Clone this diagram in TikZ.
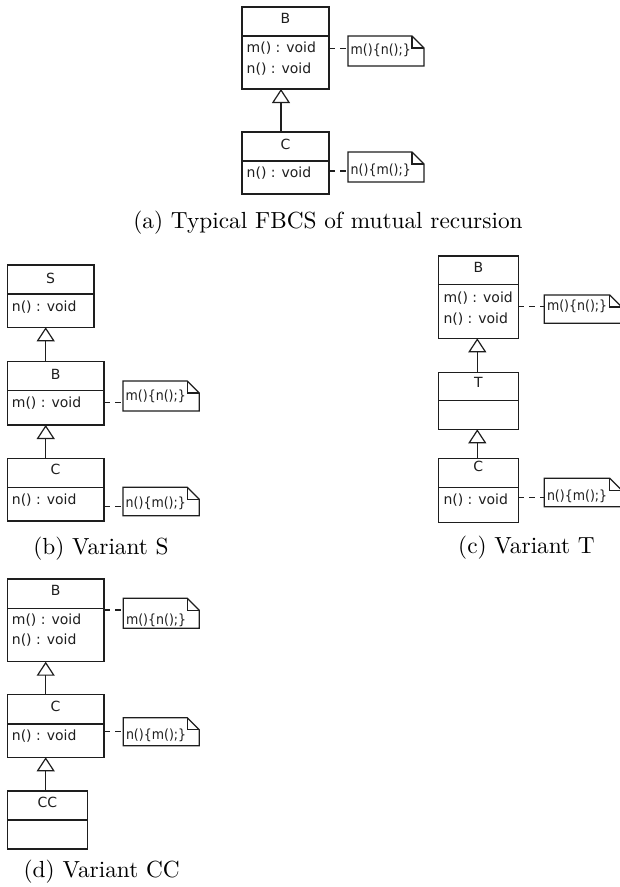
\documentclass[tikz,border=0pt]{standalone}
\usepackage{fontspec}
\usetikzlibrary{arrows.meta,calc}
\newfontfamily\umlfont{DejaVu Sans}
\newfontfamily\notefont[FakeStretch=0.9]{DejaVu Sans}
\newfontfamily\capfont[Extension=.otf]{lmroman10-regular}
\definecolor{ink}{HTML}{1E1E1E}
\tikzset{
  umlline/.style={draw=ink, line width=1.2pt},
  clsbox/.style={umlline, rectangle, inner sep=0pt, outer sep=0pt},
  notebox/.style={rectangle, inner sep=0pt, outer sep=0pt},
  ctitle/.style={font=\umlfont\fontsize{14}{16}\selectfont, text=ink, inner sep=0pt},
  optext/.style={font=\umlfont\fontsize{14}{16}\selectfont, text=ink, inner sep=0pt, anchor=west},
  ntext/.style={font=\notefont\fontsize{14}{16}\selectfont, text=ink, inner sep=0pt, anchor=west},
  inh/.style={umlline, -{Triangle[open, length=14pt, width=18pt]}},
  dep/.style={umlline, dash pattern=on 6pt off 5pt},
  capt/.style={font=\capfont\fontsize{23.3}{27}\selectfont, inner sep=0pt, anchor=base}
}
% class box: name, x1, y1, x2, y2, ydiv
\newcommand\clsB[6]{%
  \node[clsbox, anchor=north west, minimum width={#4-#2}, minimum height={#5-#3}] (#1) at (#2,#3) {};
  \draw[umlline] (#1.west |- 0,#6) -- (#1.east |- 0,#6);}
% note: name, x1, y1, x2, y2, text y, text
\newcommand\noteB[7]{%
  \node[notebox, anchor=north west, minimum width={#4-#2}, minimum height={#5-#3}] (#1) at (#2,#3) {};
  \draw[umlline, line join=miter] (#1.north west) -- ($(#1.north east)+(-12,0)$) -- ($(#1.north east)+(0,12)$)
     -- (#1.south east) -- (#1.south west) -- cycle;
  \draw[umlline] ($(#1.north east)+(-12,0)$) -- ($(#1.north east)+(-12,12)$) -- ($(#1.north east)+(0,12)$);
  \node[ntext] at (#2+2.5,#6) {#7};}
\begin{document}
\begin{tikzpicture}[x=1pt,y=-1pt]
\fill[white] (0,0) rectangle (620,887);
\useasboundingbox (0,0) rectangle (620,887);

% ---------------- (a)
\clsB{aB}{242}{7}{329}{89}{36}
\node[ctitle] at (285.5,18) {B};
\node[optext] at (246.5,48) {m() : void};
\node[optext] at (246.5,69) {n() : void};
\clsB{aC}{242}{132}{329}{194}{161}
\node[ctitle] at (285.5,144) {C};
\node[optext] at (246.5,173) {n() : void};
\coordinate (ax) at (281,0);
\draw[inh] (aC.north -| ax) -- (aB.south -| ax);
\noteB{aN1}{348}{36}{424}{66}{50}{m()\{n();\}}
\noteB{aN2}{348}{152}{424}{182}{170}{n()\{m();\}}
\coordinate (ay1) at (0,48.3);
\coordinate (ay2) at (0,171);
\draw[dep] (aB.east |- ay1) -- (aN1.west |- ay1);
\draw[dep] (aC.east |- ay2) -- (aN2.west |- ay2);
\node[capt] (capa) at (328,228) {(a) Typical FBCS of mutual recursion};

% ---------------- (b)
\clsB{bS}{7.3}{265}{94}{327.3}{294}
\node[ctitle] at (50.6,278) {S};
\node[optext] at (11.7,307) {n() : void};
\clsB{bB}{7.3}{361.7}{104}{425}{390.7}
\node[ctitle] at (55.6,374.7) {B};
\node[optext] at (11.7,403) {m() : void};
\clsB{bC}{7.3}{458.3}{104}{521}{487.3}
\node[ctitle] at (55.6,469.7) {C};
\node[optext] at (11.7,500) {n() : void};
\coordinate (bx) at (45.7,0);
\draw[inh] (bB.north -| bx) -- (bS.south -| bx);
\draw[inh] (bC.north -| bx) -- (bB.south -| bx);
\noteB{bN1}{123}{381}{199.3}{411}{396}{m()\{n();\}}
\noteB{bN2}{123}{487.3}{199.3}{515.7}{503}{n()\{m();\}}
\coordinate (by1) at (0,402.7);
\coordinate (by2) at (0,506.7);
\draw[dep] (bB.east |- by1) -- (bN1.west |- by1);
\draw[dep] (bC.east |- by2) -- (bN2.west |- by2);
\node[capt] (capb) at (101,554.3) {(b) Variant S};

% ---------------- (c)
\clsB{cB}{438.3}{256}{518.3}{338.3}{284.3}
\node[ctitle] at (478.3,267.5) {B};
\node[optext] at (443.3,297.8) {m() : void};
\node[optext] at (443.3,318.8) {n() : void};
\clsB{cT}{438.3}{372.3}{518.3}{429.3}{400.7}
\node[ctitle] at (478.3,382) {T};
\clsB{cC}{438.3}{458.3}{518.3}{522.7}{487.7}
\node[ctitle] at (478.3,466) {C};
\node[optext] at (443.3,500) {n() : void};
\coordinate (cx) at (477.3,0);
\draw[inh] (cT.north -| cx) -- (cB.south -| cx);
\draw[inh] (cC.north -| cx) -- (cT.south -| cx);
\noteB{cN1}{544.3}{295}{621.8}{323.3}{306.7}{m()\{n();\}}
\noteB{cN2}{544.3}{478.3}{621.8}{506.7}{496.7}{n()\{m();\}}
\coordinate (cy1) at (0,306.7);
\coordinate (cy2) at (0,497.3);
\draw[dep] (cB.east |- cy1) -- (cN1.west |- cy1);
\draw[dep] (cC.east |- cy2) -- (cN2.west |- cy2);
\node[capt] (capc) at (526.5,553) {(c) Variant T};

% ---------------- (d)
\clsB{dB}{7.3}{579}{104}{661.7}{608.3}
\node[ctitle] at (55.6,590) {B};
\node[optext] at (11.7,620) {m() : void};
\node[optext] at (11.7,640.5) {n() : void};
\clsB{dC}{7.3}{694.3}{104}{757.3}{724}
\node[ctitle] at (55.6,706) {C};
\node[optext] at (11.7,736) {n() : void};
\clsB{dCC}{7.3}{791}{87.3}{849}{820}
\node[ctitle] at (47.3,802.5) {CC};
\coordinate (dx) at (45.7,0);
\draw[inh] (dC.north -| dx) -- (dB.south -| dx);
\draw[inh] (dCC.north -| dx) -- (dC.south -| dx);
\noteB{dN1}{123.3}{598.3}{199.3}{628.3}{620}{m()\{n();\}}
\noteB{dN2}{123.3}{717.7}{199.3}{745.7}{735}{n()\{m();\}}
\coordinate (dy1) at (0,610);
\coordinate (dy2) at (0,731.7);
\draw[dep] (dB.east |- dy1) -- (dN1.west |- dy1);
\draw[dep] (dC.east |- dy2) -- (dN2.west |- dy2);
\node[capt] (capd) at (101.7,877) {(d) Variant CC};
\end{tikzpicture}
\end{document}
